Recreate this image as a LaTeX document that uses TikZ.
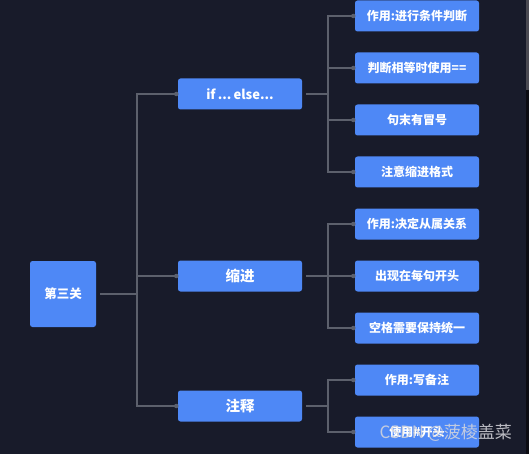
\documentclass[tikz,border=0pt]{standalone}
\usepackage{fontspec}
\setmainfont{Noto Sans CJK SC}
\definecolor{bgcol}{RGB}{24,27,42}
\definecolor{boxcol}{RGB}{78,136,246}
\definecolor{linecol}{RGB}{92,96,108}
\definecolor{sbdark}{RGB}{12,12,18}
\definecolor{sbthumb}{RGB}{74,74,82}
\definecolor{wmcol}{RGB}{215,215,220}
\begin{document}
\begin{tikzpicture}[x=1pt,y=-1pt,
  bg/.style={fill=bgcol},
  box/.style={fill=boxcol, rounded corners=2.5pt, text=white, font=\bfseries, inner sep=0pt, align=center},
  rootbox/.style={box, minimum width=66pt, minimum height=66pt, font=\bfseries\fontsize{12.5}{13}\selectfont},
  lonebox/.style={box, minimum width=124pt, minimum height=31pt, font=\bfseries\fontsize{14.5}{15}\selectfont},
  ltwobox/.style={box, minimum width=124pt, minimum height=31pt, font=\bfseries\fontsize{12}{13}\selectfont},
  link/.style={draw=linecol, line width=1.1pt},
  dot/.style={circle, fill=linecol, inner sep=0pt, minimum size=4.5pt}
]
\path[bg] (0,0) rectangle (529,454);
\useasboundingbox (0,0) rectangle (529,454);
\fill[sbdark] (526,0) rectangle (529,454);
\fill[sbthumb] (526,0) rectangle (529,90);

\node[rootbox] (root) at (63,294) {第三关};

\node[lonebox, font=\bfseries\fontsize{13}{14}\selectfont] (a) at (240,94) {if\,...\,else...};
\node[lonebox] (b) at (240,276) {缩进};
\node[lonebox] (c) at (240,406) {注释};

\node[ltwobox] (a1) at (417,16) {作用:进行条件判断};
\node[ltwobox] (a2) at (417,68) {判断相等时使用==};
\node[ltwobox] (a3) at (417,120) {句末有冒号};
\node[ltwobox] (a4) at (417,172) {注意缩进格式};
\node[ltwobox] (b1) at (417,224) {作用:决定从属关系};
\node[ltwobox] (b2) at (417,276) {出现在每句开头};
\node[ltwobox] (b3) at (417,328) {空格需要保持统一};
\node[ltwobox] (c1) at (417,380) {作用:写备注};
\node[ltwobox] (c2) at (417,432) {使用\#开头};

% root bus
\coordinate (rb) at (137,294);
\draw[link] ([xshift=4pt]root.east) -- (rb);
\foreach \t in {a,b,c}{
  \draw[link] (rb) |- ([xshift=-1.5pt]\t.west);
  \node[dot] at ([xshift=-1.5pt]\t.west) {};
}

% level-1 buses
\foreach \p/\kids in {a/{a1,a2,a3,a4}, b/{b1,b2,b3}, c/{c1,c2}}{
  \coordinate (\p bus) at (328,0 |- \p.east);
  \draw[link] ([xshift=4pt]\p.east) -- (\p bus);
  \foreach \k in \kids{
    \draw[link] (\p bus) |- ([xshift=-1.5pt]\k.west);
    \node[dot] at ([xshift=-1.5pt]\k.west) {};
  }
}

% watermark
\node[text=wmcol, opacity=0.85, font=\fontsize{17}{18}\selectfont, anchor=west] (wm) at (376,433) {CSDN @菠棱盖菜};
\end{tikzpicture}
\end{document}
